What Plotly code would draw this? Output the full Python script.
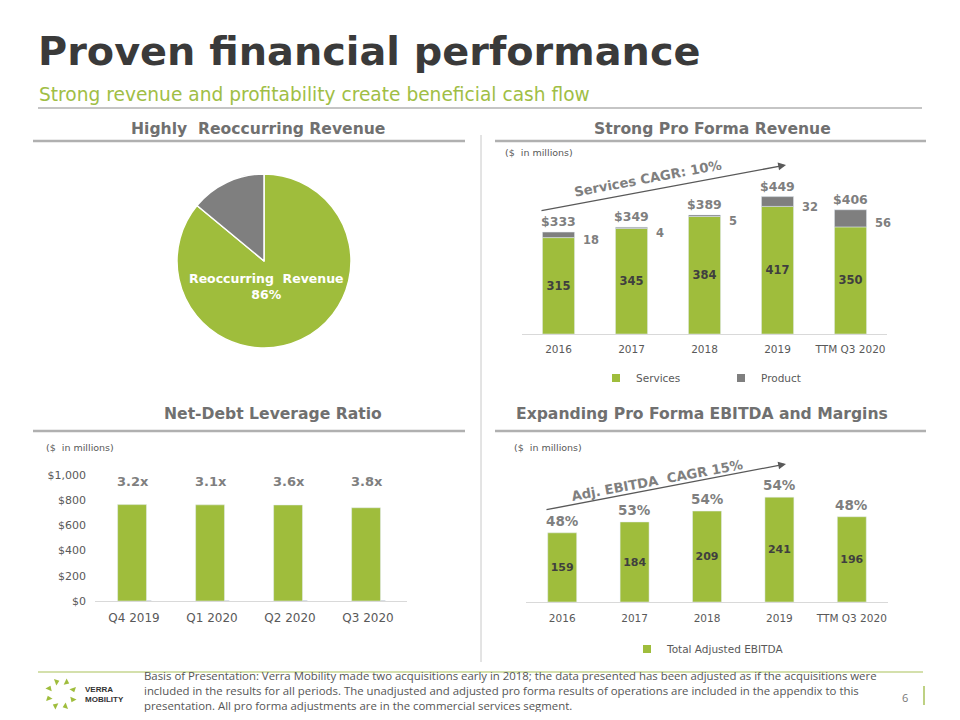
import plotly.graph_objects as go
import math

# ---------------- data ----------------
rev_years = ["2016", "2017", "2018", "2019", "TTM Q3 2020"]
rev_services = [315, 345, 384, 417, 350]
rev_product = [18, 4, 5, 32, 56]
rev_totals = ["$333", "$349", "$389", "$449", "$406"]

pie_labels = ["Reoccurring Revenue", "Other"]
pie_values = [86, 14]

lev_quarters = ["Q4 2019", "Q1 2020", "Q2 2020", "Q3 2020"]
lev_net_debt = [765, 763, 762, 740]
lev_ratio = [3.2, 3.1, 3.6, 3.8]
lev_ratio_labels = ["3.2x", "3.1x", "3.6x", "3.8x"]
lev_ticks = [0, 200, 400, 600, 800, 1000]
lev_tick_text = ["$0", "$200", "$400", "$600", "$800", "$1,000"]

ebitda_years = ["2016", "2017", "2018", "2019", "TTM Q3 2020"]
ebitda_values = [159, 184, 209, 241, 196]
ebitda_margins = ["48%", "53%", "54%", "54%", "48%"]

# ---------------- style ----------------
GREEN = "#9FBD3C"
GREY = "#7F7F7F"
TXT = "#7F7F7F"
DARK = "#3F3F3F"
TICK = "#595959"
LINE = "#B0B0B0"
FONT = "DejaVu Sans"
OFF = 8            # page margin of the html body
W, H = 960 - 2 * OFF, 720 - 2 * OFF


def X(px):
    return (px - OFF) / W


def Y(py):
    return 1 - (py - OFF) / H


rev_pos = list(range(len(rev_years)))
lev_pos = list(range(len(lev_quarters)))
ebitda_pos = list(range(len(ebitda_years)))

fig = go.Figure()

# ---- pie ----
fig.add_trace(go.Pie(
    labels=pie_labels, values=pie_values, sort=False, direction="clockwise",
    rotation=0, marker=dict(colors=[GREEN, GREY], line=dict(color="white", width=1.5)),
    textinfo="none", hoverinfo="label+percent", showlegend=False,
    domain=dict(x=[X(177), X(351)], y=[Y(348), Y(174)]),
))

# ---- revenue ----
fig.add_trace(go.Bar(
    x=rev_pos, y=rev_services, name="Services", marker_color=GREEN,
    width=0.44, offset=-0.22, xaxis="x", yaxis="y", showlegend=False,
    text=[str(v) for v in rev_services], textposition="inside",
    insidetextanchor="middle", textangle=0,
    textfont=dict(family=FONT, size=11.5, color=DARK, weight="bold"),
))
fig.add_trace(go.Bar(
    x=rev_pos, y=rev_product, base=rev_services, name="Product", marker_color=GREY,
    width=0.44, offset=-0.22, xaxis="x", yaxis="y", showlegend=False,
))
for nm, col in [("Services", GREEN), ("Product", GREY)]:
    fig.add_trace(go.Scatter(x=[None], y=[None], mode="markers", name=nm,
                             marker=dict(symbol="square", size=8, color=col),
                             xaxis="x", yaxis="y", legend="legend"))

# ---- leverage ----
fig.add_trace(go.Bar(
    x=lev_pos, y=lev_ratio, marker_color=GREY, width=0.37, offset=-0.15,
    xaxis="x2", yaxis="y2", showlegend=False, name="Leverage ratio",
))
fig.add_trace(go.Bar(
    x=lev_pos, y=lev_net_debt, marker_color=GREEN, width=0.37, offset=-0.21,
    xaxis="x2", yaxis="y2", showlegend=False, name="Net debt",
))

# ---- EBITDA ----
fig.add_trace(go.Bar(
    x=ebitda_pos, y=ebitda_values, name="Total Adjusted EBITDA", marker_color=GREEN,
    width=0.4, offset=-0.2, xaxis="x3", yaxis="y3", showlegend=False,
    text=[str(v) for v in ebitda_values], textposition="inside",
    insidetextanchor="middle", textangle=0,
    textfont=dict(family=FONT, size=11.5, color=DARK, weight="bold"),
))
fig.add_trace(go.Scatter(x=[None], y=[None], mode="markers", name="Total Adjusted EBITDA",
                         marker=dict(symbol="square", size=8, color=GREEN),
                         xaxis="x3", yaxis="y3", legend="legend2"))

ann = []
shapes = []


def A(**kw):
    kw.setdefault("showarrow", False)
    kw.setdefault("xanchor", "center")
    kw.setdefault("yanchor", "middle")
    ann.append(kw)


for i, s, p, t in zip(rev_pos, rev_services, rev_product, rev_totals):
    A(x=i, y=s + p, xref="x", yref="y", text=t, yanchor="bottom", yshift=1,
      font=dict(family=FONT, size=12.5, color=TXT, weight="bold"))
    A(x=i, y=s + p / 2, xref="x", yref="y", text=str(p), xanchor="left", xshift=22, yshift=-5,
      font=dict(family=FONT, size=11.5, color=TXT, weight="bold"))

for i, lbl in zip(lev_pos, lev_ratio_labels):
    A(x=i, y=952, xref="x2", yref="y2", text=lbl, xshift=-1,
      font=dict(family=FONT, size=13, color=TXT, weight="bold"))

for i, v, m in zip(ebitda_pos, ebitda_values, ebitda_margins):
    A(x=i, y=v, xref="x3", yref="y3", text=m, yanchor="bottom", yshift=2,
      font=dict(family=FONT, size=13.5, color=TXT, weight="bold"))

for (x0, y0, x1, y1, txt, tx, ty) in [
    (540, 211, 786, 165, "Services CAGR: 10%", 648, 178),
    (545, 510, 786, 464, "Adj. EBITDA&nbsp; CAGR 15%", 657, 480),
]:
    ann.append(dict(x=X(x1), y=Y(y1), xref="paper", yref="paper", ax=x0 - x1, ay=y0 - y1,
                    axref="pixel", ayref="pixel", showarrow=True, arrowhead=2,
                    arrowsize=1.2, arrowwidth=1.3, arrowcolor="#595959", text="",
                    standoff=0, startstandoff=0))
    A(x=X(tx), y=Y(ty), xref="paper", yref="paper", text=txt, textangle=-10.6,
      font=dict(family=FONT, size=13.2, color=TXT, weight="bold"))

for (px, py) in [(503, 153), (44, 447), (512, 447)]:
    A(x=X(px), y=Y(py), xref="paper", yref="paper", text="($&nbsp; in millions)", xanchor="left",
      font=dict(family=FONT, size=9.5, color=TICK))

A(x=X(266), y=Y(287), xref="paper", yref="paper",
  text="Reoccurring&nbsp; Revenue<br>86%",
  font=dict(family=FONT, size=12.5, color="white", weight="bold"))

A(x=X(36), y=Y(51), xref="paper", yref="paper", xanchor="left",
  text="Proven financial performance",
  font=dict(family=FONT, size=39.8, color="#3A3A3A", weight="bold"))
A(x=X(37), y=Y(95), xref="paper", yref="paper", xanchor="left",
  text="Strong revenue and profitability create beneficial cash flow",
  font=dict(family=FONT, size=18.6, color="#A0BE45"))

for (cx, cy, txt) in [(258, 129, "Highly&nbsp; Reoccurring Revenue"),
                      (712, 129, "Strong Pro Forma Revenue"),
                      (273, 414, "Net-Debt Leverage Ratio"),
                      (702, 414, "Expanding Pro Forma EBITDA and Margins")]:
    A(x=X(cx), y=Y(cy), xref="paper", yref="paper", text=txt,
      font=dict(family=FONT, size=15.6, color="#707070", weight="bold"))

footer = ("Basis of Presentation: Verra Mobility made two acquisitions early in 2018; the data presented has been adjusted as if the acquisitions were<br>"
          "included in the results for all periods. The unadjusted and adjusted pro forma results of operations are included in the appendix to this<br>"
          "presentation. All pro forma adjustments are in the commercial services segment.")
A(x=X(142), y=Y(666), xref="paper", yref="paper", xanchor="left", yanchor="top",
  text=footer, align="left", font=dict(family="Open Sans", size=11.4, color="#555555"))
A(x=X(905), y=Y(697), xref="paper", yref="paper", text="6",
  font=dict(family="Open Sans", size=11, color="#777777"))
A(x=X(83), y=Y(694), xref="paper", yref="paper", xanchor="left",
  text="<b>VERRA<br>MOBILITY</b>", align="left",
  font=dict(family="Liberation Sans", size=8, color="#333333"))

# logo ring of small arrows
lx, ly, lr = [], [], []
for k in range(8):
    a = math.radians(90 - k * 45 + 20)
    lx.append(X(61 + 13 * math.cos(a)))
    ly.append(Y(694 - 13 * math.sin(a)))
    lr.append(-(90 - k * 45 + 20) + 180)
fig.add_trace(go.Scatter(x=lx, y=ly, xaxis="x4", yaxis="y4", mode="markers",
                         marker=dict(symbol="triangle-up", size=6, color=GREEN, angle=lr),
                         showlegend=False, hoverinfo="skip"))


def hline(x0, x1, y, color, width=2):
    shapes.append(dict(type="line", xref="paper", yref="paper", x0=X(x0), x1=X(x1),
                       y0=Y(y), y1=Y(y), line=dict(color=color, width=width)))


hline(38, 922, 108, "#8C8C8C", 1.2)
hline(33, 465, 141, LINE, 2.5)
hline(495, 926, 141, LINE, 2.5)
hline(33, 465, 431, LINE, 2.5)
hline(495, 926, 431, LINE, 2.5)
hline(38, 923, 672, "#A9C25A", 1.2)
shapes.append(dict(type="line", xref="paper", yref="paper", x0=X(481), x1=X(481),
                   y0=Y(135), y1=Y(662), line=dict(color="#C8C8C8", width=1)))
shapes.append(dict(type="line", xref="paper", yref="paper", x0=X(924), x1=X(924),
                   y0=Y(686), y1=Y(705), line=dict(color="#A9C25A", width=1.5)))

xcommon = dict(showgrid=False, zeroline=False, showline=True, linecolor="#D9D9D9",
               linewidth=1, ticks="", fixedrange=True)

fig.update_layout(
    width=W, height=H, margin=dict(l=0, r=0, t=0, b=0, autoexpand=False),
    paper_bgcolor="white", plot_bgcolor="rgba(0,0,0,0)",
    barmode="group",
    xaxis=dict(domain=[X(522), X(887)], anchor="y", range=[-0.5, len(rev_pos) - 0.5],
               tickvals=rev_pos, ticktext=rev_years, ticklabelstandoff=5,
               tickfont=dict(family=FONT, size=10.5, color=TICK), **xcommon),
    yaxis=dict(domain=[Y(334), Y(181)], anchor="x", range=[0, 500], visible=False),
    xaxis2=dict(domain=[X(95), X(407)], anchor="y2", range=[-0.5, len(lev_pos) - 0.5],
                tickvals=lev_pos, ticktext=lev_quarters, ticklabelstandoff=6,
                tickfont=dict(family=FONT, size=12, color=TICK), **xcommon),
    yaxis2=dict(domain=[Y(601), Y(475)], anchor="x2", range=[0, 1000], showgrid=False,
                zeroline=False, showline=False, tickvals=lev_ticks, ticktext=lev_tick_text,
                tickfont=dict(family=FONT, size=11, color=TICK), ticklabelstandoff=8),
    xaxis3=dict(domain=[X(526), X(888)], anchor="y3", range=[-0.5, len(ebitda_pos) - 0.5],
                tickvals=ebitda_pos, ticktext=ebitda_years, ticklabelstandoff=6,
                tickfont=dict(family=FONT, size=10.5, color=TICK), **xcommon),
    yaxis3=dict(domain=[Y(602), Y(471.5)], anchor="x3", range=[0, 300], visible=False),
    xaxis4=dict(domain=[0, 1], range=[0, 1], visible=False, anchor="y4"),
    yaxis4=dict(domain=[0, 1], range=[0, 1], visible=False, anchor="x4"),
    legend=dict(orientation="h", x=X(596), y=Y(378), xanchor="left", yanchor="middle",
                entrywidth=80, entrywidthmode="pixels", itemclick=False,
                font=dict(family=FONT, size=10.5, color=TICK), bgcolor="rgba(0,0,0,0)"),
    legend2=dict(orientation="h", x=X(627), y=Y(649), xanchor="left", yanchor="middle",
                 font=dict(family=FONT, size=10.5, color=TICK), bgcolor="rgba(0,0,0,0)"),
    annotations=ann, shapes=shapes,
)

fig.write_html("out.html")
